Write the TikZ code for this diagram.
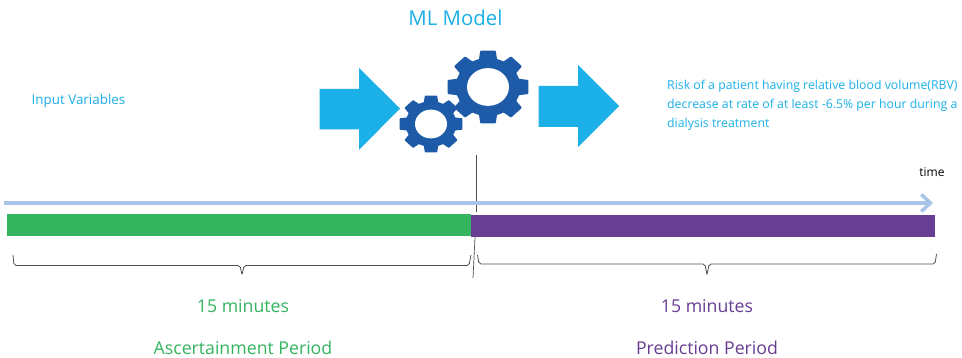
\documentclass[tikz,border=0pt]{standalone}
\usepackage{fontspec}
\setmainfont{Open Sans}
\usetikzlibrary{arrows.meta}
\definecolor{cy}{HTML}{1BB0E8}
\definecolor{gearb}{HTML}{1D5AA8}
\definecolor{tl}{HTML}{A9C4E6}
\definecolor{gr}{HTML}{35B45F}
\definecolor{pu}{HTML}{683D94}
\definecolor{br}{HTML}{505050}
\newcommand{\mygear}[5]{% cx cy outer root hole
  \begin{scope}[shift={(#1,#2)},yscale=0.9]
  \fill[gearb,draw=gearb,line width=1.8pt,line join=round,even odd rule]
    ({#4*cos(-15)},{#4*sin(-15)})
    \foreach \a in {0,45,...,315}{
      -- ({#4*cos(\a-15)},{#4*sin(\a-15)})
      -- ({#3*cos(\a-10)},{#3*sin(\a-10)})
      -- ({#3*cos(\a+10)},{#3*sin(\a+10)})
      -- ({#4*cos(\a+15)},{#4*sin(\a+15)})
    } -- cycle;
  \fill[white] (0,0) circle[radius=#5];
  \end{scope}
}
\tikzset{
  blockarrow/.style={fill=cy,draw=none},
  bartime/.style={draw=tl,line width=3.2pt},
  bracestyle/.style={draw=br,line width=0.8pt,rounded corners=2pt},
  txt/.style={inner sep=0pt,anchor=center},
  every node/.style={inner sep=0pt}
}
\begin{document}
\begin{tikzpicture}[x=1pt,y=-1pt]
\useasboundingbox (0,0) rectangle (962,358);
\fill[white] (0,0) rectangle (962,358);
% block arrows
\fill[blockarrow] (319.5,89) -- (359,89) -- (359,68) -- (400,108.5) -- (359,150) -- (359,129.5) -- (319.5,129.5) -- cycle;
\fill[blockarrow] (538.5,86) -- (578,86) -- (578,65) -- (619,106) -- (578,147) -- (578,127) -- (538.5,127) -- cycle;
% gears
\mygear{431}{124}{31}{24.5}{16}
\mygear{488}{87}{40}{31.5}{21}
% bars
\fill[gr] (7,214) rectangle (471,236);
\fill[pu] (471,215.5) rectangle (935,237.5);
% vertical marks
\coordinate (vt) at (476,155);
\coordinate (vb) at (476,212);
\coordinate (wt) at (475,237);
\coordinate (wb) at (473,278);
\draw[br,line width=0.8pt] (vt) -- (vb);
\draw[br,line width=0.7pt] (wt) -- (wb);
% time arrow
\coordinate (ts) at (4,203);
\coordinate (te) at (933,203);
\draw[bartime,-{Straight Barb[length=9pt,width=17pt,line width=3.6pt]}] (ts) -- (te);
% braces
\draw[bracestyle] (13,255) -- (14,265.5) -- (240,265.5) -- (242,275) -- (244,265.5) -- (469,265.5) -- (471,255);
\draw[bracestyle] (477.5,255) -- (479,264) -- (705,264) -- (707,275) -- (709,264) -- (935,264) -- (936.5,254);
% text
\node[txt,text=cy,font=\fontsize{20.4}{23}\selectfont] (ml) at (455.5,18) {ML Model};
\node[txt,text=cy,font=\fontsize{13.4}{15}\selectfont] (inp) at (78.5,101.5) {Input Variables};
\node[txt,text=cy,anchor=west,font=\fontsize{12.3}{19}\selectfont,align=left] (risk) at (667,105)
 {Risk of a patient having relative blood volume(RBV)\\decrease at rate of at least -6.5\% per hour during a\\dialysis treatment};
\node[txt,text=black,font=\fontsize{12}{12}\selectfont] (tm) at (932,172) {time};
\node[txt,text=gr,font=\fontsize{17.7}{20}\selectfont] (m1) at (243,306.5) {15 minutes};
\node[txt,text=gr,font=\fontsize{17.7}{20}\selectfont] (a1) at (243,347.5) {Ascertainment Period};
\node[txt,text=pu,font=\fontsize{17.7}{20}\selectfont] (m2) at (707,306.5) {15 minutes};
\node[txt,text=pu,font=\fontsize{17.7}{20}\selectfont] (a2) at (707,347.5) {Prediction Period};
\end{tikzpicture}
\end{document}
